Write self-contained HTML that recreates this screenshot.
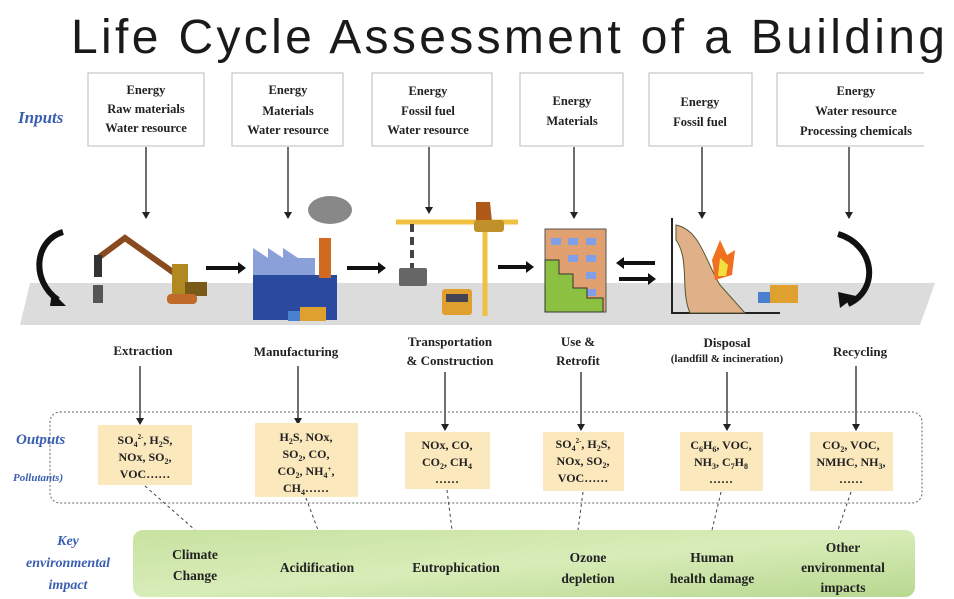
<!DOCTYPE html>
<html><head><meta charset="utf-8"><style>
html,body{margin:0;padding:0;background:#fff;width:954px;height:599px;overflow:hidden}
svg{display:block}
.s{font-family:"Liberation Serif",serif;font-weight:bold;fill:#222}
.b{font-family:"Liberation Serif",serif;font-weight:bold;font-style:italic;fill:#3a5fb0}
</style></head><body>
<svg width="954" height="599" viewBox="0 0 954 599" xmlns="http://www.w3.org/2000/svg">
<defs>
<marker id="a" markerWidth="8" markerHeight="8" refX="6" refY="4" orient="auto" markerUnits="userSpaceOnUse"><path d="M0,0 L7,4 L0,8z" fill="#222"/></marker>
<linearGradient id="g" x1="0" y1="0" x2="1" y2="1"><stop offset="0" stop-color="#c8e2a0"/><stop offset="0.5" stop-color="#d8ecb8"/><stop offset="1" stop-color="#b8d890"/></linearGradient>
</defs>
<text x="71" y="53" font-family="Liberation Sans,sans-serif" font-size="48" fill="#1a1a1a" textLength="874" lengthAdjust="spacing">Life Cycle Assessment of a Building</text>

<!-- gray band -->
<polygon points="30,283 935,283 920,325 20,325" fill="#dcdcdc"/>

<!-- inputs -->
<text class="b" x="18" y="123" font-size="17">Inputs</text>
<g fill="#fff" stroke="#bbb" stroke-width="1">
<rect x="88" y="73" width="116" height="73"/><rect x="232" y="73" width="111" height="73"/>
<rect x="372" y="73" width="120" height="73"/><rect x="520" y="73" width="103" height="73"/>
<rect x="649" y="73" width="103" height="73"/><path d="M924,73 H777 V146 H924"/>
</g>
<g class="s" font-size="12.5" text-anchor="middle">
<text x="146" y="94">Energy</text><text x="146" y="113">Raw materials</text><text x="146" y="132">Water resource</text>
<text x="288" y="94">Energy</text><text x="288" y="115">Materials</text><text x="288" y="134">Water resource</text>
<text x="428" y="95">Energy</text><text x="428" y="115">Fossil fuel</text><text x="428" y="134">Water resource</text>
<text x="572" y="105">Energy</text><text x="572" y="125">Materials</text>
<text x="700" y="106">Energy</text><text x="700" y="126">Fossil fuel</text>
<text x="856" y="95">Energy</text><text x="856" y="115">Water resource</text><text x="856" y="135">Processing chemicals</text>
</g>
<g stroke="#222" stroke-width="1.3" marker-end="url(#a)">
<line x1="146" y1="147" x2="146" y2="218"/><line x1="288" y1="147" x2="288" y2="218"/>
<line x1="429" y1="147" x2="429" y2="213"/><line x1="574" y1="147" x2="574" y2="218"/>
<line x1="702" y1="147" x2="702" y2="218"/><line x1="849" y1="147" x2="849" y2="218"/>
</g>

<!-- icons -->
<path d="M63,232 C35,240 30,280 58,300" fill="none" stroke="#111" stroke-width="6"/><path d="M52,292 L66,306 L50,306z" fill="#111"/>
<path d="M838,234 C875,245 880,290 848,304" fill="none" stroke="#111" stroke-width="6"/><path d="M856,296 L840,308 L838,292z" fill="#111"/>
<polyline points="98,258 125,238 177,275" fill="none" stroke="#8a4a20" stroke-width="6"/>
<rect x="94" y="255" width="8" height="22" fill="#333"/><rect x="93" y="285" width="10" height="18" fill="#555"/>
<rect x="172" y="264" width="16" height="30" fill="#b08a20"/><rect x="185" y="282" width="22" height="14" fill="#7a5a18"/><rect x="167" y="294" width="30" height="10" rx="4" fill="#c06a2a"/>
<line x1="206" y1="268" x2="240" y2="268" stroke="#111" stroke-width="4"/><path d="M238,262 L246,268 L238,274z" fill="#111"/>
<polygon points="253,258 253,248 268,258 268,248 283,258 283,248 298,258 315,258 315,280 253,280" fill="#8aa0d8"/>
<rect x="253" y="275" width="84" height="45" fill="#2a4aa0"/><rect x="319" y="238" width="12" height="40" fill="#d06a20"/>
<ellipse cx="330" cy="210" rx="22" ry="14" fill="#888"/>
<rect x="300" y="307" width="26" height="14" fill="#e0a030"/><rect x="288" y="311" width="12" height="10" fill="#4a80d0"/>
<line x1="347" y1="268" x2="380" y2="268" stroke="#111" stroke-width="4"/><path d="M378,262 L386,268 L378,274z" fill="#111"/>
<line x1="396" y1="222" x2="518" y2="222" stroke="#f0c040" stroke-width="5"/>
<line x1="485" y1="222" x2="485" y2="316" stroke="#f0c040" stroke-width="5"/>
<line x1="412" y1="224" x2="412" y2="268" stroke="#444" stroke-width="4" stroke-dasharray="8,5"/>
<rect x="399" y="268" width="28" height="18" rx="2" fill="#666"/>
<path d="M476,202 L490,202 L492,222 L476,222z" fill="#b05a1a"/><rect x="474" y="220" width="30" height="12" rx="3" fill="#c0902a"/>
<rect x="442" y="289" width="30" height="26" rx="3" fill="#e0a030"/><rect x="446" y="294" width="22" height="8" fill="#445"/>
<line x1="498" y1="267" x2="528" y2="267" stroke="#111" stroke-width="4"/><path d="M526,261 L534,267 L526,273z" fill="#111"/>
<rect x="545" y="229" width="61" height="83" fill="#e0a070" stroke="#555"/>
<g fill="#7fa0e8"><rect x="551" y="238" width="10" height="7"/><rect x="568" y="238" width="10" height="7"/><rect x="586" y="238" width="10" height="7"/>
<rect x="568" y="255" width="10" height="7"/><rect x="586" y="255" width="10" height="7"/><rect x="586" y="272" width="10" height="7"/><rect x="586" y="289" width="10" height="7"/></g>
<path d="M545,260 H559 V274 H573 V288 H587 V298 H603 V312 H545z" fill="#8cc040" stroke="#333"/>
<line x1="655" y1="263" x2="622" y2="263" stroke="#111" stroke-width="4"/><path d="M624,257 L616,263 L624,269z" fill="#111"/>
<line x1="619" y1="279" x2="650" y2="279" stroke="#111" stroke-width="4"/><path d="M648,273 L656,279 L648,285z" fill="#111"/>
<path d="M672,218 V313 H780" fill="none" stroke="#222" stroke-width="2"/>
<path d="M676,225 C700,230 705,260 720,285 L745,313 L690,313 C680,290 690,260 676,240z" fill="#e0b088" stroke="#553" stroke-width="1"/>
<path d="M720,240 L727,255 L735,250 L732,275 L715,280 L712,260z" fill="#f07020"/><path d="M720,258 L728,265 L726,276 L718,276z" fill="#f0e040"/>
<rect x="770" y="285" width="28" height="18" fill="#e0a030"/><rect x="758" y="292" width="12" height="11" fill="#4a80d0"/>

<g class="s" font-size="13" text-anchor="middle">
<text x="143" y="355">Extraction</text><text x="296" y="356">Manufacturing</text>
<text x="450" y="346">Transportation</text><text x="450" y="365">&amp; Construction</text>
<text x="578" y="346">Use &amp;</text><text x="578" y="365">Retrofit</text>
<text x="727" y="347">Disposal</text><text x="727" y="362" font-size="11">(landfill &amp; incineration)</text>
<text x="860" y="356">Recycling</text>
</g>
<g stroke="#222" stroke-width="1.3" marker-end="url(#a)">
<line x1="140" y1="366" x2="140" y2="424"/><line x1="298" y1="366" x2="298" y2="424"/>
<line x1="445" y1="372" x2="445" y2="430"/><line x1="581" y1="372" x2="581" y2="430"/>
<line x1="727" y1="372" x2="727" y2="430"/><line x1="856" y1="366" x2="856" y2="430"/>
</g>

<rect x="50" y="412" width="872" height="91" rx="10" fill="none" stroke="#666" stroke-dasharray="2,2"/>
<text class="b" x="16" y="444" font-size="15">Outputs</text>
<text class="b" x="13" y="481" font-size="11">Pollutants)</text>
<g fill="#fbe9bd">
<rect x="98" y="425" width="94" height="60"/><rect x="255" y="423" width="103" height="74"/>
<rect x="405" y="432" width="85" height="57"/><rect x="543" y="432" width="81" height="59"/>
<rect x="680" y="432" width="83" height="59"/><rect x="810" y="432" width="83" height="59"/>
</g>
<g class="s" font-size="12" text-anchor="middle">
<text x="145" y="444">SO<tspan font-size="8" dy="3">4</tspan><tspan font-size="7" dy="-8">2-</tspan><tspan dy="5">, H</tspan><tspan font-size="8" dy="3">2</tspan><tspan dy="-3">S,</tspan></text>
<text x="145" y="461">NOx, SO<tspan font-size="8" dy="3">2</tspan><tspan dy="-3">,</tspan></text>
<text x="145" y="478">VOC……</text>
<text x="306" y="441">H<tspan font-size="8" dy="3">2</tspan><tspan dy="-3">S, NOx,</tspan></text>
<text x="306" y="458">SO<tspan font-size="8" dy="3">2</tspan><tspan dy="-3">, CO,</tspan></text>
<text x="306" y="475">CO<tspan font-size="8" dy="3">2</tspan><tspan dy="-3">, NH</tspan><tspan font-size="8" dy="3">4</tspan><tspan font-size="7" dy="-7">+</tspan><tspan dy="4">,</tspan></text>
<text x="306" y="492">CH<tspan font-size="8" dy="3">4</tspan><tspan dy="-3">……</tspan></text>
<text x="447" y="449">NOx, CO,</text>
<text x="447" y="466">CO<tspan font-size="8" dy="3">2</tspan><tspan dy="-3">, CH</tspan><tspan font-size="8" dy="3">4</tspan></text>
<text x="447" y="483">……</text>
<text x="583" y="448">SO<tspan font-size="8" dy="3">4</tspan><tspan font-size="7" dy="-8">2-</tspan><tspan dy="5">, H</tspan><tspan font-size="8" dy="3">2</tspan><tspan dy="-3">S,</tspan></text>
<text x="583" y="465">NOx, SO<tspan font-size="8" dy="3">2</tspan><tspan dy="-3">,</tspan></text>
<text x="583" y="482">VOC……</text>
<text x="721" y="449">C<tspan font-size="8" dy="3">6</tspan><tspan dy="-3">H</tspan><tspan font-size="8" dy="3">6</tspan><tspan dy="-3">, VOC,</tspan></text>
<text x="721" y="466">NH<tspan font-size="8" dy="3">3</tspan><tspan dy="-3">, C</tspan><tspan font-size="8" dy="3">7</tspan><tspan dy="-3">H</tspan><tspan font-size="8" dy="3">8</tspan></text>
<text x="721" y="483">……</text>
<text x="851" y="449">CO<tspan font-size="8" dy="3">2</tspan><tspan dy="-3">, VOC,</tspan></text>
<text x="851" y="466">NMHC, NH<tspan font-size="8" dy="3">3</tspan><tspan dy="-3">,</tspan></text>
<text x="851" y="483">……</text>
</g>
<g stroke="#444" stroke-width="1" stroke-dasharray="3,3">
<line x1="145" y1="486" x2="195" y2="530"/><line x1="306" y1="498" x2="318" y2="530"/>
<line x1="447" y1="490" x2="452" y2="530"/><line x1="583" y1="492" x2="578" y2="530"/>
<line x1="721" y1="492" x2="712" y2="530"/><line x1="851" y1="492" x2="838" y2="530"/>
</g>

<rect x="133" y="530" width="782" height="67" rx="10" fill="url(#g)"/>
<g class="b" font-size="14" text-anchor="middle">
<text x="68" y="545">Key</text><text x="68" y="567">environmental</text><text x="68" y="589">impact</text>
</g>
<g class="s" font-size="13.5" text-anchor="middle">
<text x="195" y="559">Climate</text><text x="195" y="580">Change</text>
<text x="317" y="572">Acidification</text>
<text x="456" y="572">Eutrophication</text>
<text x="588" y="562">Ozone</text><text x="588" y="583">depletion</text>
<text x="712" y="562">Human</text><text x="712" y="583">health damage</text>
<text x="843" y="552">Other</text><text x="843" y="572">environmental</text><text x="843" y="592">impacts</text>
</g>
</svg>
</body></html>
